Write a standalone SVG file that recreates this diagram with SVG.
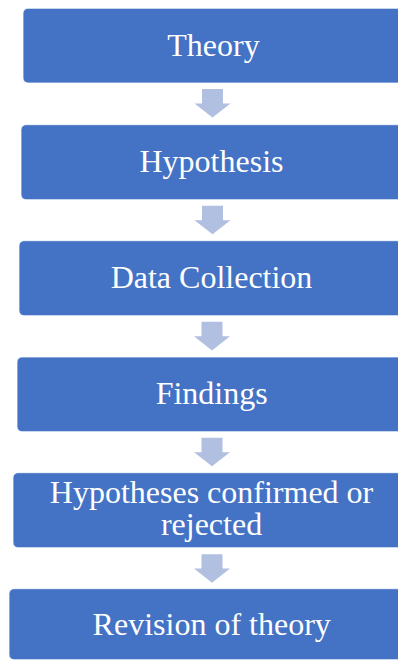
<svg xmlns="http://www.w3.org/2000/svg" width="398" height="660" viewBox="0 0 398 660">
<style>
.box{fill:#4472C4;stroke:#ffffff;stroke-width:0.75}
.lbl{font-family:"Liberation Serif","Times New Roman",serif;font-size:32px;fill:#ffffff;text-anchor:middle}
.arr{fill:#B1BFE1}
</style>
<rect width="398" height="660" fill="#ffffff"/>
<g id="connectors">
<path class="arr" d="M202 89 H223 V103.5 H230.5 L212.5 117.5 L194.5 103.5 H202 Z"/>
<path class="arr" d="M202 205.7 H223 V220.2 H230.5 L212.5 234.2 L194.5 220.2 H202 Z"/>
<path class="arr" d="M201.5 321.7 H222.5 V336.2 H230 L212 350.5 L194 336.2 H201.5 Z"/>
<path class="arr" d="M201.5 437.8 H222.5 V452.3 H230 L212 466.3 L194 452.3 H201.5 Z"/>
<path class="arr" d="M201.5 554.3 H222.5 V568.5 H230 L212 582.7 L194 568.5 H201.5 Z"/>
</g>
<g id="theory">
<rect class="box" x="23" y="8.3" width="385" height="74.7" rx="5"/>
<text class="lbl" x="213.5" y="56">Theory</text>
</g>
<g id="hypothesis">
<rect class="box" x="21" y="124.7" width="387" height="75" rx="5"/>
<text class="lbl" x="211.5" y="172.4">Hypothesis</text>
</g>
<g id="data-collection">
<rect class="box" x="19" y="240.7" width="389" height="75" rx="5"/>
<text class="lbl" x="211.5" y="288.4">Data Collection</text>
</g>
<g id="findings">
<rect class="box" x="17" y="357" width="391" height="74.7" rx="5"/>
<text class="lbl" x="211.7" y="404.3">Findings</text>
</g>
<g id="hypotheses-confirmed">
<rect class="box" x="13" y="472.7" width="395" height="75" rx="5"/>
<text class="lbl" x="211.5" y="502.7">Hypotheses confirmed or<tspan x="211.5" dy="32.3">rejected</tspan></text>
</g>
<g id="revision">
<rect class="box" x="9" y="588.7" width="399" height="71" rx="5"/>
<text class="lbl" x="211.7" y="635">Revision of theory</text>
</g>
</svg>
